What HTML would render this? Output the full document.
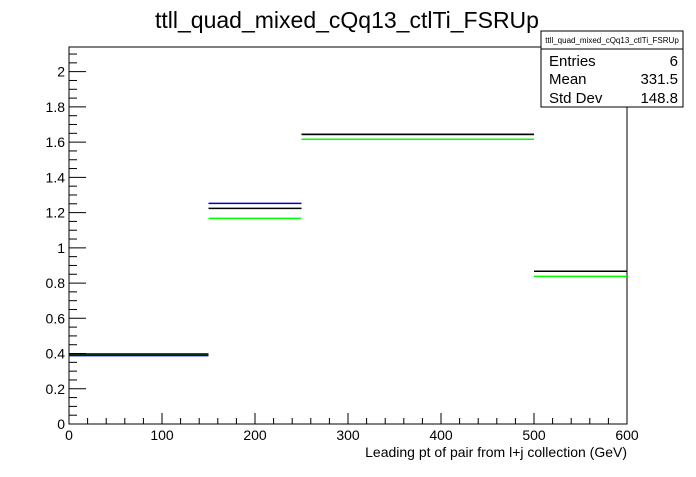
<!DOCTYPE html>
<html><head><meta charset="utf-8"><style>
body{margin:0;background:#fff;}
svg text{font-family:"Liberation Sans",Arial,sans-serif;}
</style></head><body>
<svg id="chart" width="696" height="472" viewBox="0 0 696 472" xmlns="http://www.w3.org/2000/svg">
<rect width="696" height="472" fill="#fff"/>
<text x="347" y="28" font-size="23" text-anchor="middle">ttll_quad_mixed_cQq13_ctlTi_FSRUp</text>
<rect x="69" y="47" width="558" height="377" fill="none" stroke="#000" stroke-width="1"/>
<g id="marks"></g>
<g id="axes"></g>
<text x="627" y="457" font-size="14" text-anchor="end">Leading pt of pair from l+j collection (GeV)</text>
<g>
<rect x="541" y="31" width="142" height="76" fill="#fff" stroke="#000"/>
<line x1="541" y1="49" x2="683" y2="49" stroke="#000"/>
<text x="612" y="43" font-size="8" text-anchor="middle">ttll_quad_mixed_cQq13_ctlTi_FSRUp</text>
<text x="549" y="66" font-size="15">Entries</text><text x="678" y="66" font-size="15" text-anchor="end">6</text>
<text x="549" y="84" font-size="15">Mean</text><text x="678" y="84" font-size="15" text-anchor="end">331.5</text>
<text x="549" y="103" font-size="15">Std Dev</text><text x="678" y="103" font-size="15" text-anchor="end">148.8</text>
</g>
</svg>
<script>
const binEdges=[0,150,250,500,600];
const seriesBlack=[0.397,1.224,1.644,0.867];
const seriesGreen=[0.390,1.167,1.616,0.838];
const seriesBlue=[0.388,1.252,1.644,0.867];
const xTicks=[0,100,200,300,400,500,600];
const yTicks=[0,0.2,0.4,0.6,0.8,1,1.2,1.4,1.6,1.8,2];
const yTickLabels=["0","0.2","0.4","0.6","0.8","1","1.2","1.4","1.6","1.8","2"];
const X0=69,X1=627,Y0=424,Y1=47,xmax=600,ymax=2.14;
const xs=v=>X0+(X1-X0)*v/xmax;
const ys=v=>Y0-(Y0-Y1)*v/ymax;
const NS="http://www.w3.org/2000/svg";
const marks=document.getElementById('marks'),axes=document.getElementById('axes');
function ln(p,x1,y1,x2,y2,c,w){const l=document.createElementNS(NS,'line');l.setAttribute('x1',x1);l.setAttribute('y1',y1);l.setAttribute('x2',x2);l.setAttribute('y2',y2);l.setAttribute('stroke',c);l.setAttribute('stroke-width',w);p.appendChild(l);return l;}
function series(vals,color,name){
 vals.forEach((v,i)=>{
  const l=ln(marks,xs(binEdges[i]),ys(v),xs(binEdges[i+1]),ys(v),color,1.5);
  
  
 });
}
series(seriesGreen,'#00ff00','green-series');
series(seriesBlue,'#0000cc','blue-series');
series(seriesBlack,'#000000','black-series');
for(let v=0;v<=xmax;v+=20){const major=v%100===0;ln(axes,xs(v),Y0,xs(v),Y0-(major?11:6),'#000',1);}
xTicks.forEach(v=>{const t=document.createElementNS(NS,'text');t.setAttribute('x',xs(v));t.setAttribute('y',Y0+16);t.setAttribute('font-size','14');t.setAttribute('text-anchor','middle');t.textContent=String(v);


axes.appendChild(t);});
for(let k=0;k*0.05<=ymax;k++){const v=k*0.05;const major=k%4===0;ln(axes,X0,ys(v),X0+(major?17:8),ys(v),'#000',1);}
yTicks.forEach((v,i)=>{const t=document.createElementNS(NS,'text');t.setAttribute('x',X0-4);t.setAttribute('y',ys(v)+5);t.setAttribute('font-size','14');t.setAttribute('text-anchor','end');t.textContent=yTickLabels[i];


axes.appendChild(t);});
</script>
</body></html>
